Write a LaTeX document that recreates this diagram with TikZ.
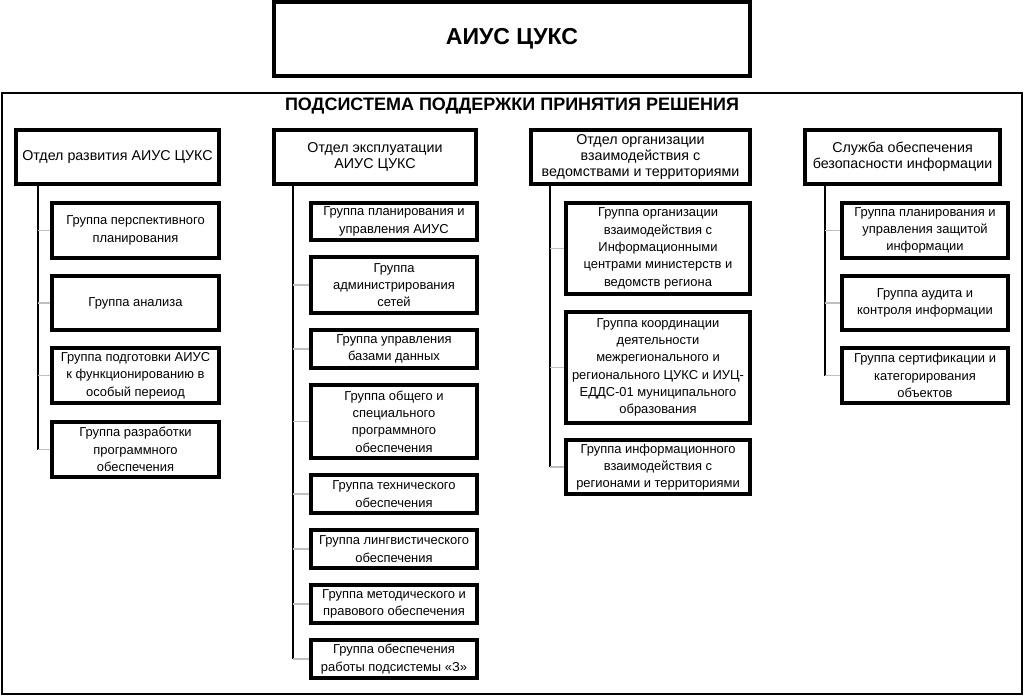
\documentclass[tikz,border=0pt]{standalone}
\usepackage{fontspec}
\setmainfont{Liberation Sans}
\begin{document}
\begin{tikzpicture}[x=0.75pt,y=-0.75pt,
  sz/.style 2 args={minimum width=#1*0.75pt, minimum height=#2*0.75pt},
  topbox/.style={draw, line width=3pt, inner sep=0pt, font=\fontsize{17.3}{20}\selectfont\bfseries},
  deptbox/.style={draw, line width=2.3pt, inner sep=0pt, align=center, font=\fontsize{10.7}{12}\selectfont},
  grpbox/.style={draw, line width=2.3pt, inner sep=0pt, align=center, font=\fontsize{9.7}{13}\selectfont},
  trunk/.style={line width=1.4pt},
  branch/.style={line width=0.8pt, draw=black!25},
  frame/.style={line width=1.4pt}
]
\useasboundingbox (0,0) rectangle (1024,696);
\draw[frame] (2,93) rectangle (1022,694);
\node[topbox, sz={476}{74}] (top) at (512,39) {АИУС ЦУКС};
\node[font=\fontsize{13.5}{16}\selectfont\bfseries] (sub) at (512,106) {ПОДСИСТЕМА ПОДДЕРЖКИ ПРИНЯТИЯ РЕШЕНИЯ};

% departments
\node[deptbox, sz={203}{54}] (d1) at (117.5,157) {Отдел развития АИУС ЦУКС};
\node[deptbox, sz={202}{54}] (d2) at (375,157) {Отдел эксплуатации\\АИУС ЦУКС};
\node[deptbox, sz={219}{54}] (d3) at (640.5,157) {Отдел организации\\взаимодействия с\\ведомствами и территориями};
\node[deptbox, sz={195}{54}] (d4) at (902.5,157) {Служба обеспечения\\безопасности информации};

% dept 1 groups
\node[grpbox, sz={167}{55}] (g11) at (135.5,230.5) {Группа перспективного\\планирования};
\node[grpbox, sz={167}{54}] (g12) at (135.5,303) {Группа анализа};
\node[grpbox, sz={167}{55}] (g13) at (135.5,375.5) {Группа подготовки АИУС\\к функционированию в\\особый переиод};
\node[grpbox, sz={167}{55}] (g14) at (135.5,449.5) {Группа разработки\\программного\\обеспечения};

% dept 2 groups
\node[grpbox, sz={166}{37}] (g21) at (394,221.5) {Группа планирования и\\управления АИУС};
\node[grpbox, sz={166}{56}] (g22) at (394,285) {Группа\\администрирования\\сетей};
\node[grpbox, sz={166}{38}] (g23) at (394,349) {Группа управления\\базами данных};
\node[grpbox, sz={166}{73}] (g24) at (394,421.5) {Группа общего и\\специального\\программного\\обеспечения};
\node[grpbox, sz={166}{38}] (g25) at (394,494) {Группа технического\\обеспечения};
\node[grpbox, sz={166}{38}] (g26) at (394,549) {Группа лингвистического\\обеспечения};
\node[grpbox, sz={166}{38}] (g27) at (394,604) {Группа методического и\\правового обеспечения};
\node[grpbox, sz={166}{38}] (g28) at (394,659) {Группа обеспечения\\работы подсистемы «З»};

% dept 3 groups
\node[grpbox, sz={184}{91}] (g31) at (658,248.5) {Группа организации\\взаимодействия с\\Информационными\\центрами министерств и\\ведомств региона};
\node[grpbox, sz={184}{111}] (g32) at (658,367.5) {Группа координации\\деятельности\\межрегионального и\\регионального ЦУКС и ИУЦ-\\ЕДДС-01 муниципального\\образования};
\node[grpbox, sz={184}{54}] (g33) at (658,467) {Группа информационного\\взаимодействия с\\регионами и территориями};

% dept 4 groups
\node[grpbox, sz={166}{55}] (g41) at (925,230.5) {Группа планирования и\\управления защитой\\информации};
\node[grpbox, sz={166}{54}] (g42) at (925,303) {Группа аудита и\\контроля информации};
\node[grpbox, sz={166}{55}] (g43) at (925,375.5) {Группа сертификации и\\категорирования\\объектов};

% trunk x positions
\coordinate (x1) at (38,0);
\coordinate (x2) at (293,0);
\coordinate (x3) at (550,0);
\coordinate (x4) at (825,0);

% connectors
\draw[trunk] (d1.south -| x1) -- (g14.west -| x1);
\foreach \g in {g11,g12,g13,g14} \draw[branch] (\g.west -| x1) -- (\g.west);
\draw[trunk] (d2.south -| x2) -- (g28.west -| x2);
\foreach \g in {g22,g23,g24,g25,g26,g27,g28} \draw[branch] (\g.west -| x2) -- (\g.west);
\draw[trunk] (d3.south -| x3) -- (g33.west -| x3);
\foreach \g in {g31,g32,g33} \draw[branch] (\g.west -| x3) -- (\g.west);
\draw[trunk] (d4.south -| x4) -- (g43.west -| x4);
\foreach \g in {g41,g42,g43} \draw[branch] (\g.west -| x4) -- (\g.west);
\end{tikzpicture}
\end{document}
